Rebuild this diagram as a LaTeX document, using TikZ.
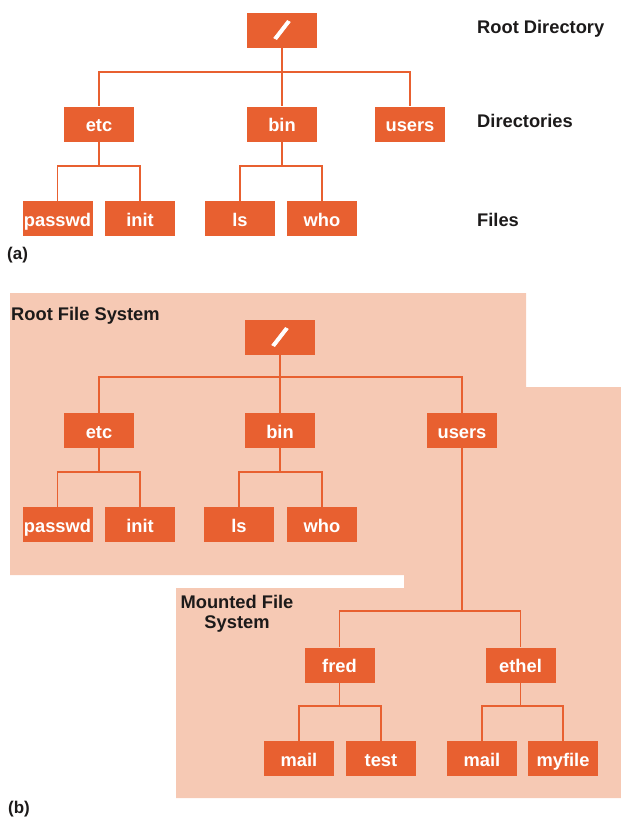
\documentclass[tikz,border=0pt]{standalone}
\usepackage{graphicx}
\usepackage{fontspec}
\setmainfont{Liberation Sans}
\newfontfamily\slashfont{Liberation Sans Bold}[FakeBold=2.2]
\definecolor{boxred}{RGB}{232,96,48}
\definecolor{peach}{RGB}{246,201,180}
\definecolor{ink}{RGB}{28,26,26}
\newcommand{\rootslash}{\rotatebox[origin=c]{-27}{\fontsize{29}{29}\slashfont /}}
\begin{document}
\begin{tikzpicture}[x=1pt,y=-1pt,
  fsbox/.style={fill=boxred, text=white, minimum width=70pt, minimum height=35pt,
    inner sep=0pt, text height=15pt, text depth=0pt,
    font=\fontsize{18.3}{21}\selectfont\bfseries},
  rootbox/.style={fsbox, text height={}, text depth={}},
  link/.style={draw=boxred, line width=1.6pt},
  caption/.style={text=ink, anchor=base west, inner sep=0pt,
    font=\fontsize{18.3}{21}\selectfont\bfseries},
  panellabel/.style={text=ink, anchor=base west, inner sep=0pt,
    font=\fontsize{17}{19}\selectfont\bfseries}]
\useasboundingbox (0,0) rectangle (621,820);

% ---------- (a) hierarchy ----------
\node[rootbox] (ra) at (282,30) {\rootslash};
\node[fsbox] (etca) at (99,124) {etc};
\node[fsbox] (bina) at (282,124) {bin};
\node[fsbox] (usersa) at (410,124) {users};
\node[fsbox] (passwda) at (57.5,218.5) {passwd};
\node[fsbox] (inita) at (140,218.5) {init};
\node[fsbox] (lsa) at (240,218.5) {ls};
\node[fsbox] (whoa) at (322,218.5) {who};

\draw[link] (ra) -- (bina);
\draw[link] (ra.south) -- ++(0,24) -| (etca.north);
\draw[link] (ra.south) -- ++(0,24) -| (usersa.north);
\draw[link] (etca.south) -- ++(0,24.5) -| (passwda.north);
\draw[link] (etca.south) -- ++(0,24.5) -| (inita.north);
\draw[link] (bina.south) -- ++(0,24.5) -| (lsa.north);
\draw[link] (bina.south) -- ++(0,24.5) -| (whoa.north);

\node[caption] (lroot) at (477,33.3) {Root Directory};
\node[caption] (ldirs) at (477,127) {Directories};
\node[caption] (lfiles) at (477,226) {Files};
\node[panellabel] (tagA) at (7,259) {(a)};

% ---------- (b) mounted file system ----------
\fill[peach] (10,293) -- (526,293) -- (526,387) -- (621,387) -- (621,798)
  -- (176,798) -- (176,588) -- (404,588) -- (404,575) -- (10,575) -- cycle;

\node[caption] (lrootfs) at (11,320) {Root File System};
\node[text=ink, inner sep=0pt, align=center, font=\fontsize{18.3}{20}\selectfont\bfseries]
  (lmount) at (237,614) {Mounted File\\System};

\node[rootbox] (rb) at (280,337) {\rootslash};
\node[fsbox] (etcb) at (99,430.5) {etc};
\node[fsbox] (binb) at (280,430.5) {bin};
\node[fsbox] (usersb) at (462,430.5) {users};
\node[fsbox] (passwdb) at (57.5,524.5) {passwd};
\node[fsbox] (initb) at (140,524.5) {init};
\node[fsbox] (lsb) at (239,524.5) {ls};
\node[fsbox] (whob) at (322,524.5) {who};

\node[fsbox] (fred) at (339.5,665) {fred};
\node[fsbox] (ethel) at (520.5,665) {ethel};
\node[fsbox] (mailf) at (299,758.5) {mail};
\node[fsbox] (test) at (381,758.5) {test};
\node[fsbox] (maile) at (482,758.5) {mail};
\node[fsbox] (myfile) at (563,758.5) {myfile};

\draw[link] (rb) -- (binb);
\draw[link] (rb.south) -- ++(0,22.5) -| (etcb.north);
\draw[link] (rb.south) -- ++(0,22.5) -| (usersb.north);
\draw[link] (etcb.south) -- ++(0,24) -| (passwdb.north);
\draw[link] (etcb.south) -- ++(0,24) -| (initb.north);
\draw[link] (binb.south) -- ++(0,24) -| (lsb.north);
\draw[link] (binb.south) -- ++(0,24) -| (whob.north);

\draw[link] (usersb.south) -- ++(0,163) -| (fred.north);
\draw[link] (usersb.south) -- ++(0,163) -| (ethel.north);
\draw[link] (fred.south) -- ++(0,23.5) -| (mailf.north);
\draw[link] (fred.south) -- ++(0,23.5) -| (test.north);
\draw[link] (ethel.south) -- ++(0,23.5) -| (maile.north);
\draw[link] (ethel.south) -- ++(0,23.5) -| (myfile.north);

\node[panellabel] (tagB) at (8,813) {(b)};
\end{tikzpicture}
\end{document}
